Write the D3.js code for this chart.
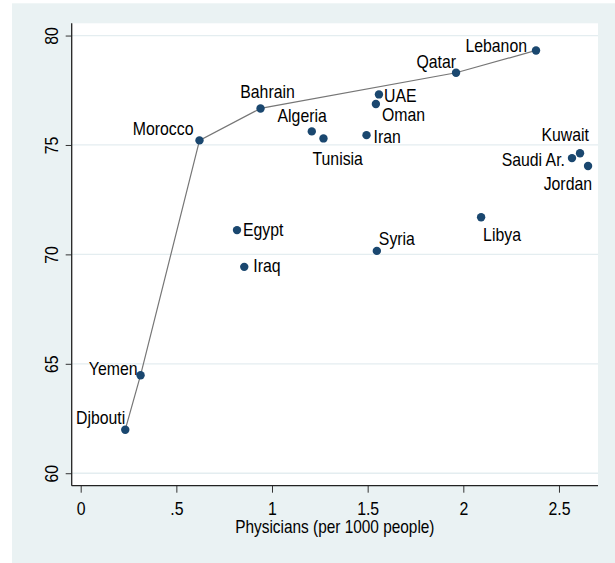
<!DOCTYPE html>
<html lang="en">
<head>
    <meta charset="UTF-8">
    <script src="https://d3js.org/d3.v7.min.js"></script>
    <title>Physicians vs life expectancy</title>
    <style>
        body { margin: 0; background: #ffffff; }
        text { font-family: "Liberation Sans", Arial, sans-serif; fill: #000; }
    </style>
</head>
<body>
    <svg id="chart" width="615" height="563"></svg>

    <script>
        // data
        const countries = ["Djbouti", "Yemen", "Morocco", "Bahrain", "Algeria", "Tunisia", "Iran", "Oman", "UAE",
            "Egypt", "Iraq", "Syria", "Qatar", "Lebanon", "Libya", "Saudi Ar.", "Kuwait", "Jordan"];
        const physicians = [0.233, 0.313, 0.621, 0.940, 1.208, 1.269, 1.494, 1.543, 1.559,
            0.817, 0.855, 1.548, 1.962, 2.380, 2.093, 2.568, 2.610, 2.652];
        const lifeExp = [61.99, 64.48, 75.21, 76.67, 75.62, 75.30, 75.45, 76.87, 77.31,
            71.11, 69.43, 70.16, 78.30, 79.32, 71.70, 74.40, 74.62, 74.04];
        // countries on the connected frontier line, in order
        const frontier = ["Djbouti", "Yemen", "Morocco", "Bahrain", "Qatar", "Lebanon"];

        const xTicks = [0, 0.5, 1, 1.5, 2, 2.5];
        const xTickLabels = ["0", ".5", "1", "1.5", "2", "2.5"];
        const yTicks = [60, 65, 70, 75, 80];
        const xTitle = "Physicians (per 1000 people)";

        // label placement: anchor, dx, dy (from marker to text middle)
        const labelPlace = {
            "Djbouti": ["end", 0, -12], "Yemen": ["end", -3, -6], "Morocco": ["end", -6, -11],
            "Bahrain": ["middle", 7, -16], "Algeria": ["end", 15, -15], "Tunisia": ["start", -11, 21],
            "Iran": ["start", 7, 2], "Oman": ["start", 6, 11], "UAE": ["start", 5, 2],
            "Egypt": ["start", 6, 0], "Iraq": ["start", 9, -1], "Syria": ["start", 2, -12],
            "Qatar": ["end", 0, -11], "Lebanon": ["end", -9, -4], "Libya": ["start", 2, 18],
            "Saudi Ar.": ["end", -7, 2], "Kuwait": ["end", 9, -18], "Jordan": ["end", 4, 18]
        };

        // Stata draws a tall, slightly narrow sans
        const fontSize = 18;
        const squeeze = 0.88;

        const svg = d3.select("#chart");
        const plotLeft = 71.7, plotRight = 598, plotTop = 23.3, plotBottom = 485.7;

        const xScale = d3.scaleLinear().domain([-0.047, 2.704]).range([plotLeft, plotRight]);
        const yScale = d3.scaleLinear().domain([59.43, 80.56]).range([plotBottom, plotTop]);

        // outer graph region
        svg.append("rect")
            .attr("x", 12).attr("y", 3.3)
            .attr("width", 615 - 12).attr("height", 563 - 3.3)
            .attr("fill", "#eaf2f3");

        // plot region
        svg.append("rect")
            .attr("x", plotLeft).attr("y", plotTop)
            .attr("width", plotRight - plotLeft).attr("height", plotBottom - plotTop)
            .attr("fill", "#ffffff");

        // gridlines
        svg.append("g")
            .selectAll("line")
            .data(yTicks)
            .join("line")
            .attr("x1", plotLeft).attr("x2", plotRight)
            .attr("y1", d => yScale(d)).attr("y2", d => yScale(d))
            .attr("stroke", "#e4edf0")
            .attr("stroke-width", 1.3);

        // y axis
        const yAxis = d3.axisLeft(yScale)
            .tickValues(yTicks)
            .tickSize(6)
            .tickPadding(0)
            .tickFormat(d3.format("d"));

        const gy = svg.append("g")
            .attr("transform", `translate(${plotLeft},0)`)
            .call(yAxis);
        gy.select(".domain").remove();
        gy.selectAll(".tick line").attr("stroke", "#333");
        gy.selectAll(".tick text")
            .attr("x", 0).attr("dy", null)
            .attr("transform", `translate(-20,0) rotate(-90) scale(${squeeze},1)`)
            .attr("text-anchor", "middle")
            .attr("dominant-baseline", "central")
            .attr("fill", "#000")
            .style("font-size", fontSize + "px")
            .style("font-family", "'Liberation Sans', Arial, sans-serif");
        svg.append("line")
            .attr("x1", plotLeft).attr("x2", plotLeft)
            .attr("y1", plotTop).attr("y2", plotBottom)
            .attr("stroke", "#222").attr("stroke-width", 1.3);

        // x axis
        const xAxis = d3.axisBottom(xScale)
            .tickValues(xTicks)
            .tickSize(7)
            .tickPadding(0)
            .tickFormat((d, i) => xTickLabels[i]);

        const gx = svg.append("g")
            .attr("transform", `translate(0,${plotBottom})`)
            .call(xAxis);
        gx.select(".domain").remove();
        gx.selectAll(".tick line").attr("stroke", "#333");
        gx.selectAll(".tick text")
            .attr("y", 0).attr("dy", null)
            .attr("transform", `translate(0,23) scale(${squeeze},1)`)
            .attr("dominant-baseline", "central")
            .attr("fill", "#000")
            .style("font-size", fontSize + "px")
            .style("font-family", "'Liberation Sans', Arial, sans-serif");
        svg.append("line")
            .attr("x1", plotLeft).attr("x2", plotRight)
            .attr("y1", plotBottom).attr("y2", plotBottom)
            .attr("stroke", "#222").attr("stroke-width", 1.3);

        // axis title
        svg.append("text")
            .attr("transform", `translate(${(plotLeft + plotRight) / 2},527) scale(${squeeze},1)`)
            .attr("text-anchor", "middle")
            .attr("dominant-baseline", "central")
            .style("font-size", "17.5px")
            .text(xTitle);

        // frontier line
        const lineData = frontier.map(name => {
            const i = countries.indexOf(name);
            return [physicians[i], lifeExp[i]];
        });
        svg.append("path")
            .datum(lineData)
            .attr("d", d3.line().x(d => xScale(d[0])).y(d => yScale(d[1])))
            .attr("fill", "none")
            .attr("stroke", "#767676")
            .attr("stroke-width", 1.2);

        // markers
        svg.append("g")
            .selectAll("circle")
            .data(countries)
            .join("circle")
            .attr("cx", (d, i) => xScale(physicians[i]))
            .attr("cy", (d, i) => yScale(lifeExp[i]))
            .attr("r", 4.2)
            .attr("fill", "#1a476f");

        // marker labels
        svg.append("g")
            .selectAll("text")
            .data(countries)
            .join("text")
            .attr("transform", (d, i) => {
                const x = xScale(physicians[i]) + labelPlace[d][1];
                const y = yScale(lifeExp[i]) + labelPlace[d][2];
                return `translate(${x},${y}) scale(${squeeze},1)`;
            })
            .attr("text-anchor", d => labelPlace[d][0])
            .attr("dominant-baseline", "central")
            .style("font-size", fontSize + "px")
            .text(d => d);
    </script>
</body>
</html>
